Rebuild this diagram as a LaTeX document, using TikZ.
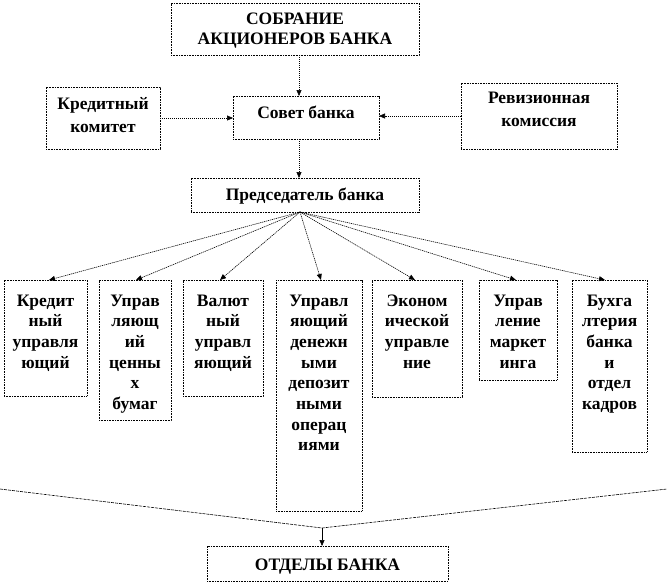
\documentclass[tikz,border=0pt]{standalone}
\usepackage{fontspec}
\setmainfont{Liberation Serif}
\usetikzlibrary{arrows.meta}
\newcommand\bx[4]{\parbox[c][#2pt][t]{#1pt}{\centering\vspace*{\dimexpr#3pt-14pt\relax}\rule{0pt}{14pt}#4}}
\begin{document}
\begin{tikzpicture}[x=1pt,y=-1pt,
  unit/.style={draw, dash pattern=on 1pt off 0.6pt, line width=0.7pt, inner sep=0pt, outer sep=0pt, anchor=north west,
    font=\fontsize{17.5}{20.7}\selectfont\bfseries},
  link/.style={dash pattern=on 1.2pt off 0.8pt, line width=0.6pt, -{Triangle[length=6pt,width=5pt]}},
  vline/.style={dash pattern=on 3pt off 1pt, line width=0.6pt},
]
\useasboundingbox (0,0) rectangle (667,584);
\node[unit] (gm) at (171,3) {\bx{248}{52}{21}{СОБРАНИЕ\\АКЦИОНЕРОВ БАНКА}};
\node[unit] (sov) at (233,96) {\bx{146}{43}{22}{Совет банка}};
\node[unit] (kk) at (46,87) {\bx{114}{62}{22}{\fontsize{17.5}{23}\selectfont Кредитный\\комитет}};
\node[unit] (rk) at (461,83) {\bx{156}{66}{20}{\fontsize{17.5}{23}\selectfont Ревизионная\\комиссия}};
\node[unit] (pr) at (191,178) {\bx{228}{34}{22}{Председатель банка}};
\node[unit] (b1) at (4,280) {\bx{83}{116}{26}{Кредит\\ный\\управля\\ющий}};
\node[unit] (b2) at (99,280) {\bx{72}{140}{26}{Управ\\ляющ\\ий\\ценны\\х\\бумаг}};
\node[unit] (b3) at (183,280) {\bx{80}{116}{26}{Валют\\ный\\управл\\яющий}};
\node[unit] (b4) at (276,280) {\bx{86}{231}{26}{Управл\\яющий\\денежн\\ыми\\депозит\\ными\\операц\\иями}};
\node[unit] (b5) at (372,280) {\bx{90}{117}{26}{Эконом\\ической\\управле\\ние}};
\node[unit] (b6) at (479,280) {\bx{78}{100}{26}{Управ\\ление\\маркет\\инга}};
\node[unit] (b7) at (572,280) {\bx{75}{172}{26}{Бухга\\лтерия\\банка\\и\\отдел\\кадров}};
\node[unit] (od) at (207,546) {\bx{241}{35}{24}{ОТДЕЛЫ БАНКА}};
\coordinate (x299) at (299,0);
\coordinate (hub) at (300,212);
\coordinate (vl) at (0,489);
\coordinate (vr) at (667,489);
\coordinate (vx) at (322,528);
\draw[link] (x299 |- gm.south) -- (x299 |- sov.north);
\draw[link] (kk.east) -- (kk.east -| sov.west);
\draw[link] (rk.west) -- (rk.west -| sov.east);
\draw[link] (x299 |- sov.south) -- (x299 |- pr.north);
\draw[link] (hub) -- ([xshift=45pt]b1.north west);
\draw[link] (hub) -- ([xshift=37pt]b2.north west);
\draw[link] (hub) -- ([xshift=37pt]b3.north west);
\draw[link] (hub) -- ([xshift=45pt]b4.north west);
\draw[link] (hub) -- ([xshift=43pt]b5.north west);
\draw[link] (hub) -- ([xshift=37pt]b6.north west);
\draw[link] (hub) -- ([xshift=33pt]b7.north west);
\draw[vline] (vl) -- (vx) -- (vr);
\draw[line width=0.6pt, -{Triangle[length=6pt,width=5pt]}] (vx) -- (vx |- od.north);
\end{tikzpicture}
\end{document}
